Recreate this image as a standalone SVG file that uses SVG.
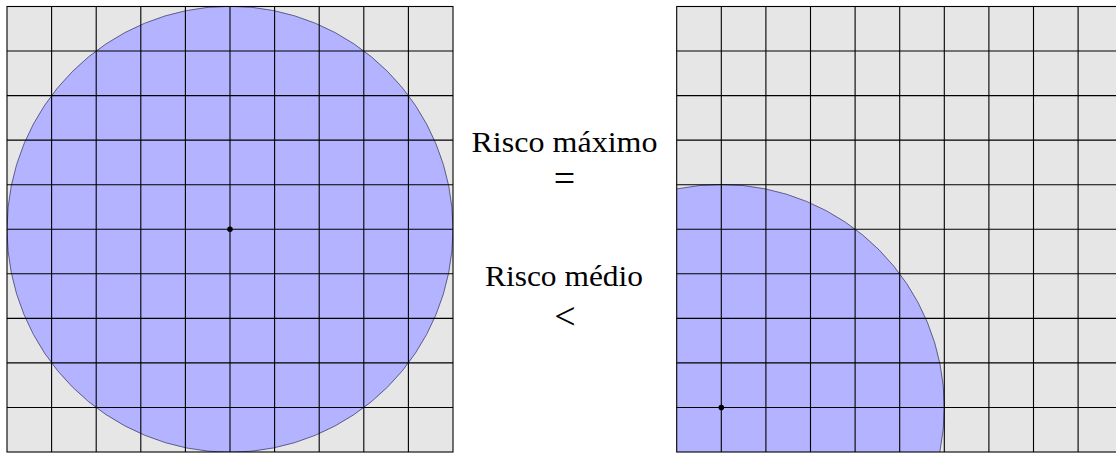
<svg xmlns="http://www.w3.org/2000/svg" width="1116" height="453" viewBox="0 0 1116 453">
  <defs>
    <style>
      .bg { fill: #e6e6e6; }
      .disk { fill: #b3b3ff; stroke: #1a1a40; stroke-width: 0.6; }
      .grid { stroke: #000; stroke-width: 1.1; fill: none; }
      .dot { fill: #000; }
      .lbl { font-family: "Liberation Serif", "DejaVu Serif", serif; font-size: 29px; fill: #000; text-anchor: middle; }
      .sym { font-size: 38px; }
    </style>
    <clipPath id="clipL"><rect x="7" y="6.5" width="446" height="445.5"/></clipPath>
    <clipPath id="clipR"><rect x="676.7" y="6.5" width="446" height="445.5"/></clipPath>
  </defs>

  <g id="left-panel">
    <rect class="bg" x="7" y="6.5" width="446" height="445.5"/>
    <circle class="disk" cx="230" cy="229.25" r="223" clip-path="url(#clipL)"/>
    <path class="grid" d="M51.6 6.5V452 M96.2 6.5V452 M140.8 6.5V452 M185.4 6.5V452 M230 6.5V452 M274.6 6.5V452 M319.2 6.5V452 M363.8 6.5V452 M408.4 6.5V452 M7 51.05H453 M7 95.6H453 M7 140.15H453 M7 184.7H453 M7 229.25H453 M7 273.8H453 M7 318.35H453 M7 362.9H453 M7 407.45H453"/>
    <rect class="grid" x="7" y="6.5" width="446" height="445.5"/>
    <circle class="dot" cx="230" cy="229.25" r="2.8"/>
  </g>

  <g id="right-panel">
    <rect class="bg" x="676.7" y="6.5" width="446" height="445.5"/>
    <circle class="disk" cx="721.3" cy="407.45" r="223" clip-path="url(#clipR)"/>
    <path class="grid" d="M721.3 6.5V452 M765.9 6.5V452 M810.5 6.5V452 M855.1 6.5V452 M899.7 6.5V452 M944.3 6.5V452 M988.9 6.5V452 M1033.5 6.5V452 M1078.1 6.5V452 M676.7 51.05H1122.7 M676.7 95.6H1122.7 M676.7 140.15H1122.7 M676.7 184.7H1122.7 M676.7 229.25H1122.7 M676.7 273.8H1122.7 M676.7 318.35H1122.7 M676.7 362.9H1122.7 M676.7 407.45H1122.7"/>
    <rect class="grid" x="676.7" y="6.5" width="446" height="445.5"/>
    <circle class="dot" cx="721.3" cy="407.45" r="2.8"/>
  </g>

  <g id="labels">
    <text class="lbl" x="564.5" y="152" textLength="186" lengthAdjust="spacingAndGlyphs">Risco máximo</text>
    <text class="lbl sym" x="564.5" y="190.5">=</text>
    <text class="lbl" x="564" y="285.5" textLength="158" lengthAdjust="spacingAndGlyphs">Risco médio</text>
    <text class="lbl sym" x="565" y="329">&lt;</text>
  </g>
</svg>
